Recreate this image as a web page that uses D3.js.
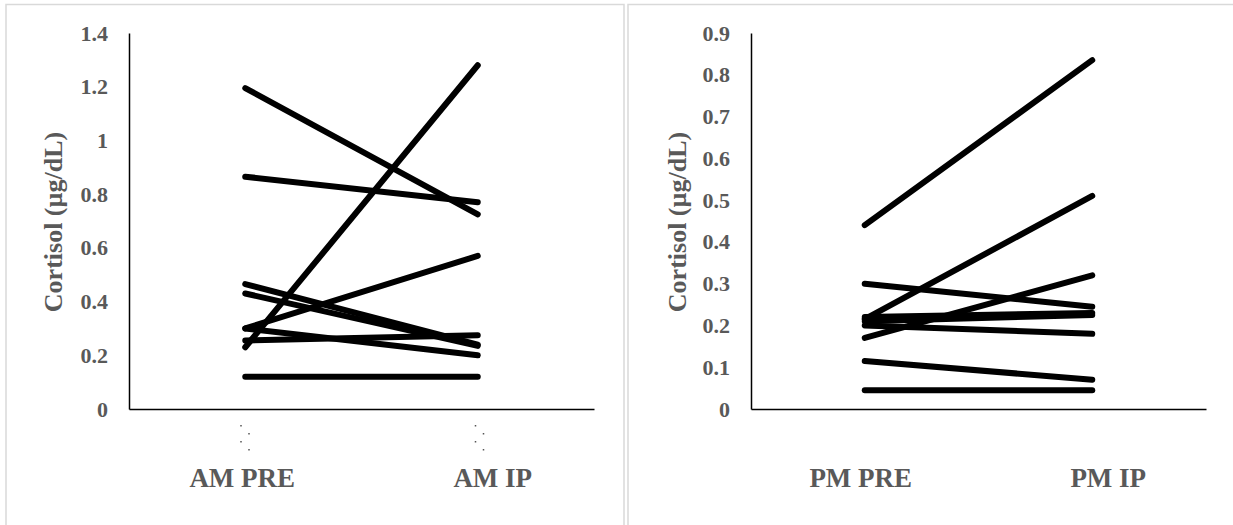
<!DOCTYPE html>
<html>
<head>
<meta charset="utf-8">
<script src="https://cdn.jsdelivr.net/npm/d3@7"></script>
<style>
  body { margin: 0; background: #fff; }
  svg { display: block; }
</style>
</head>
<body>
<div id="chart"></div>
<script>
// AM panel
const amCategories = ["AM PRE", "AM IP"];
const amPre = [1.195, 0.865, 0.23, 0.465, 0.43, 0.30, 0.30, 0.255, 0.12];
const amIp  = [0.725, 0.77, 1.28, 0.24, 0.235, 0.57, 0.20, 0.275, 0.12];
const amTicks = [0, 0.2, 0.4, 0.6, 0.8, 1, 1.2, 1.4];

// PM panel
const pmCategories = ["PM PRE", "PM IP"];
const pmPre = [0.44, 0.215, 0.17, 0.30, 0.22, 0.21, 0.20, 0.115, 0.045];
const pmIp  = [0.835, 0.51, 0.32, 0.245, 0.23, 0.225, 0.18, 0.07, 0.045];
const pmTicks = [0, 0.1, 0.2, 0.3, 0.4, 0.5, 0.6, 0.7, 0.8, 0.9];

const yTitle = "Cortisol (µg/dL)";

var W = 1233, H = 525;
var svg = d3.select("#chart").append("svg").attr("width", W).attr("height", H);
svg.append("rect").attr("width", W).attr("height", H).attr("fill", "#fff");

var FONT = "'Liberation Serif', 'Times New Roman', serif";
var GREY = "#595959";

function drawPanel(p) {
    // panel frame (light grey, runs off the bottom/right of the picture)
    svg.append("rect")
        .attr("x", p.frameX).attr("y", 4.5)
        .attr("width", p.frameW).attr("height", H + 20)
        .attr("fill", "none").attr("stroke", "#d9d9d9").attr("stroke-width", 1.5);

    var x = d3.scalePoint().domain(p.categories).range([p.left, p.right]).padding(0.5);
    var y = d3.scaleLinear().domain([0, p.max]).range([p.bottom, p.top]);

    //y axis
    var ya = svg.append("g").attr("transform", "translate(" + p.left + ",0)")
        .call(d3.axisLeft(y).tickValues(p.ticks).tickSize(0).tickPadding(21).tickFormat(d3.format("~g")));
    ya.select(".domain").attr("stroke", "#000").attr("stroke-width", 1.5);
    ya.selectAll("text").attr("fill", GREY).style("font-family", FONT)
        .style("font-weight", "bold").style("font-size", "22px");

    //x axis (line only, labels drawn below)
    var xa = svg.append("g").attr("transform", "translate(0," + p.bottom + ")")
        .call(d3.axisBottom(d3.scaleLinear().range([p.left, p.right])).ticks(0).tickSize(0));
    xa.select(".domain").attr("stroke", "#000").attr("stroke-width", 1.5);
    xa.selectAll("text").remove();

    // category labels
    svg.selectAll(null).data(p.categories).enter().append("text")
        .attr("x", function (d, i) { return x(d) + p.labelShift[i]; })
        .attr("y", p.bottom + 78)
        .attr("text-anchor", "middle")
        .attr("fill", GREY)
        .style("font-family", FONT).style("font-weight", "bold").style("font-size", "27px")
        .text(function (d) { return d; });

    // little stray dots under the axis
    if (p.dots) {
        var dotOff = [[-5, 16], [3, 24], [-5, 32], [3, 40]];
        p.categories.forEach(function (c, i) {
            dotOff.forEach(function (o) {
                svg.append("rect")
                    .attr("x", x(c) + o[0] + (i ? 2 : 0)).attr("y", p.bottom + o[1])
                    .attr("width", 1.5).attr("height", 1.5).attr("fill", "#555");
            });
        });
    }

    // y title
    svg.append("text")
        .attr("transform", "translate(" + p.titleX + "," + ((p.top + p.bottom) / 2 + 1) + ") rotate(-90)")
        .attr("text-anchor", "middle")
        .attr("fill", GREY)
        .style("font-family", FONT).style("font-weight", "bold").style("font-size", "26px")
        .text(yTitle);

    // one line per subject
    var rows = p.pre.map(function (v, i) { return [v, p.post[i]]; });
    svg.append("g").selectAll("path").data(rows).enter().append("path")
        .attr("fill", "none")
        .attr("stroke", "#000")
        .attr("stroke-width", 6)
        .attr("stroke-linecap", "round")
        .attr("d", d3.line().x(function (d, i) { return x(p.categories[i]); }).y(function (d) { return y(d); }));
}

drawPanel({
    categories: amCategories, pre: amPre, post: amIp, ticks: amTicks, max: 1.4,
    left: 129, right: 594, top: 33, bottom: 409,
    frameX: 6, frameW: 618, titleX: 62, labelShift: [-3, 15], dots: true
});

drawPanel({
    categories: pmCategories, pre: pmPre, post: pmIp, ticks: pmTicks, max: 0.9,
    left: 751, right: 1206, top: 33, bottom: 409,
    frameX: 628, frameW: 640, titleX: 686, labelShift: [-4, 16], dots: false
});
</script>
</body>
</html>
